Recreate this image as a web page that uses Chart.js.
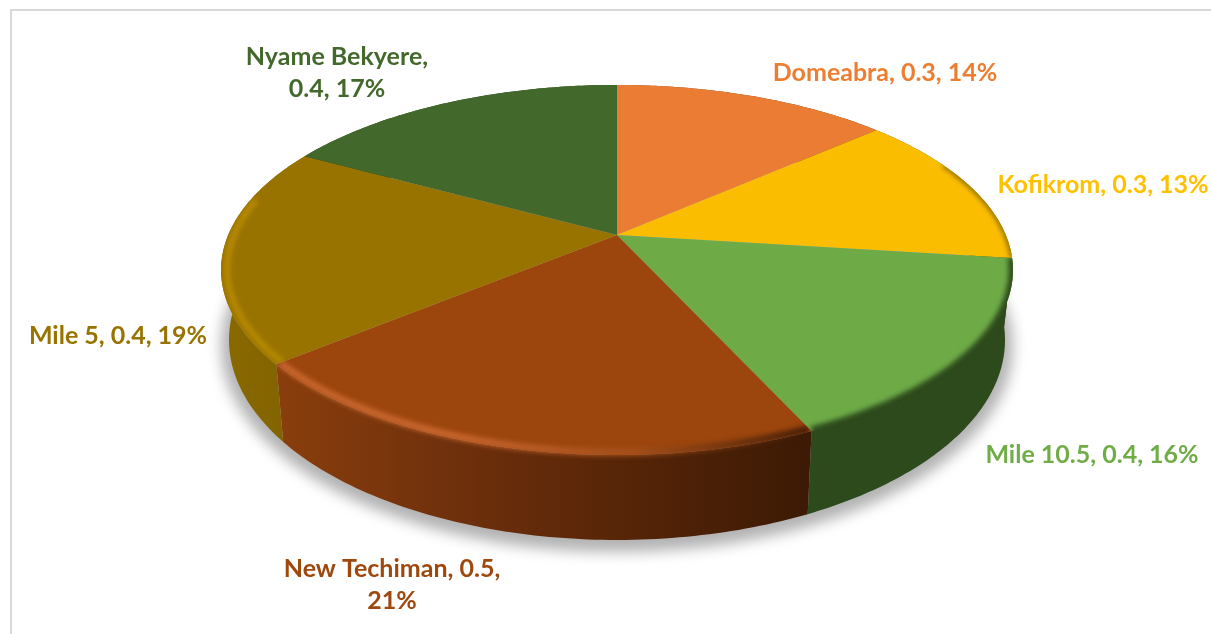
<!DOCTYPE html>
<html lang="en">
<head>
    <meta charset="UTF-8">
    <title>Pie chart</title>
    <style>
        html, body { margin: 0; background: #ffffff; overflow: hidden; }
        #wrap { position: relative; width: 1211px; height: 634px; }
        #frame {
            position: absolute; left: 10px; top: 9px; width: 1300px; height: 700px;
            border-left: 2px solid #d9d9d9; border-top: 2px solid #d9d9d9;
        }
        canvas { position: absolute; left: 0; top: 0; }
    </style>
    <script src="https://cdn.jsdelivr.net/npm/chart.js@4/dist/chart.umd.js"></script>
</head>
<body>
    <div id="wrap">
        <div id="frame"></div>
        <canvas id="pie" width="1211" height="634"></canvas>
    </div>

    <script>
        const categories = ['Domeabra', 'Kofikrom', 'Mile 10.5', 'New Techiman', 'Mile 5', 'Nyame Bekyere'];
        const values = [0.3, 0.3, 0.4, 0.5, 0.4, 0.4];
        const shares = [14, 13, 16, 21, 19, 17];
        // unrounded slice sizes
        const sliceSizes = [13.5, 13.5, 16.2, 20.8, 19, 17];

        const sliceColors = ['#eb7c33', '#fbbd00', '#6eab47', '#9c450d', '#997300', '#43682b'];
        const textColors = ['#ed7d31', '#ffc000', '#70ad47', '#9e480e', '#997300', '#43682b'];
        const wallColors = [
            ['#7a3d14'], ['#7a5e00'], ['#2d4a1c'],
            ['#8a3e0c', '#6f300c', '#552407', '#3c1a05'],
            ['#8a6900', '#7f6100'], ['#2a4018']
        ];
        const rimColors = [
            ['#7a3d14'], ['#5a4400'], ['#2d4a1c'],
            ['#c9672f', '#c9672f', '#a5501c', '#3c1a05'],
            ['#b88b00'], ['#2a4018']
        ];
        const rimWidths = [2, 3, 9, 7, 6, 2];
        const rimRadius = [1, 1, 1, 0.99, 0.985, 1];

        // label centre and where the text wraps (0 = one line)
        const labelX = [885, 1103, 1092, 392, 118, 337];
        const labelY = [73, 185, 455, 569, 336, 57];
        const labelWrap = [0, 0, 0, 2, 0, 1];

        // perspective of the tilted disc: top face and bottom face
        const midX = 617;
        const persp = -0.189;
        const topFace = { y: 235, a: 178.4, b: 388.8 };
        const bottomFace = { y: 302.1, a: 192.9, b: 381 };
        // part of the edge that has a visible bevel
        const rimFrom = -25 * Math.PI / 180;
        const rimTo = 192 * Math.PI / 180;

        function project(face, angle, r = 1) {
            const u = r * Math.cos(angle), v = r * Math.sin(angle);
            const w = 1 + persp * v;
            return [midX + face.b * u / w, face.y + face.a * v / w];
        }

        function arcPoints(face, from, to, r = 1) {
            const pts = [];
            const steps = 80;
            for (let i = 0; i <= steps; i++) {
                pts.push(project(face, from + (to - from) * i / steps, r));
            }
            return pts;
        }

        function tracePoly(ctx, pts) {
            pts.forEach((p, i) => i ? ctx.lineTo(p[0], p[1]) : ctx.moveTo(p[0], p[1]));
        }

        function xGradient(ctx, pts, stops) {
            const xs = pts.map(p => p[0]);
            const grad = ctx.createLinearGradient(Math.min(...xs), 0, Math.max(...xs), 0);
            stops.forEach((c, k) => grad.addColorStop(stops.length > 1 ? k / (stops.length - 1) : 0, c));
            return grad;
        }

        function drawShadow(ctx) {
            ctx.save();
            ctx.filter = 'blur(7px)';
            ctx.fillStyle = 'rgba(0,0,0,0.30)';
            ctx.beginPath();
            ctx.ellipse(midX, 346, 396, 206, 0, 0, Math.PI * 2);
            ctx.fill();
            ctx.restore();
        }

        function wallOutline(arc) {
            return arcPoints(topFace, arc.startAngle, arc.endAngle).concat(
                arcPoints(bottomFace, arc.startAngle, arc.endAngle).reverse());
        }

        function drawWall(ctx, arc, i) {
            const all = wallOutline(arc);
            ctx.fillStyle = xGradient(ctx, all, wallColors[i]);
            ctx.beginPath();
            tracePoly(ctx, all);
            ctx.closePath();
            ctx.fill();
        }

        function topPath(ctx, arc) {
            ctx.moveTo(midX, topFace.y);
            arcPoints(topFace, arc.startAngle, arc.endAngle).forEach(p => ctx.lineTo(p[0], p[1]));
            ctx.closePath();
        }

        function drawRim(ctx, arc, i) {
            // soft bevel where the top face rolls over into the wall
            const from = Math.max(arc.startAngle, rimFrom);
            const to = Math.min(arc.endAngle, rimTo);
            if (to <= from) return;
            ctx.save();
            ctx.beginPath();
            topPath(ctx, arc);
            tracePoly(ctx, wallOutline(arc));
            ctx.closePath();
            ctx.clip();
            ctx.filter = 'blur(2.5px)';
            ctx.strokeStyle = xGradient(ctx, wallOutline(arc), rimColors[i]);
            ctx.lineWidth = rimWidths[i];
            ctx.beginPath();
            tracePoly(ctx, arcPoints(topFace, from, to, rimRadius[i]));
            ctx.stroke();
            ctx.restore();
        }

        function drawLabels(ctx) {
            ctx.font = 'bold 25px Lato, "Open Sans", sans-serif';
            ctx.textAlign = 'center';
            ctx.textBaseline = 'middle';
            categories.forEach((name, i) => {
                const parts = [name, values[i].toFixed(1), shares[i] + '%'];
                ctx.fillStyle = textColors[i];
                if (labelWrap[i]) {
                    ctx.fillText(parts.slice(0, labelWrap[i]).join(', ') + ',', labelX[i], labelY[i]);
                    ctx.fillText(parts.slice(labelWrap[i]).join(', '), labelX[i], labelY[i] + 32);
                } else {
                    ctx.fillText(parts.join(', '), labelX[i], labelY[i]);
                }
            });
        }

        const pie3d = {
            id: 'pie3d',
            beforeDatasetsDraw(chart) {
                const ctx = chart.ctx;
                const arcs = chart.getDatasetMeta(0).data;
                drawShadow(ctx);
                arcs.forEach((arc, i) => drawWall(ctx, arc, i));
                arcs.forEach(arc => {
                    ctx.fillStyle = arc.options.backgroundColor;
                    ctx.beginPath();
                    topPath(ctx, arc);
                    ctx.fill();
                });
                arcs.forEach((arc, i) => drawRim(ctx, arc, i));
                drawLabels(ctx);
                return false;
            }
        };

        new Chart(document.getElementById('pie'), {
            type: 'pie',
            data: {
                labels: categories,
                datasets: [{ data: sliceSizes, backgroundColor: sliceColors, borderWidth: 0 }]
            },
            options: {
                responsive: false,
                animation: false,
                plugins: { legend: { display: false }, tooltip: { enabled: false } }
            },
            plugins: [pie3d]
        });
    </script>
</body>
</html>
